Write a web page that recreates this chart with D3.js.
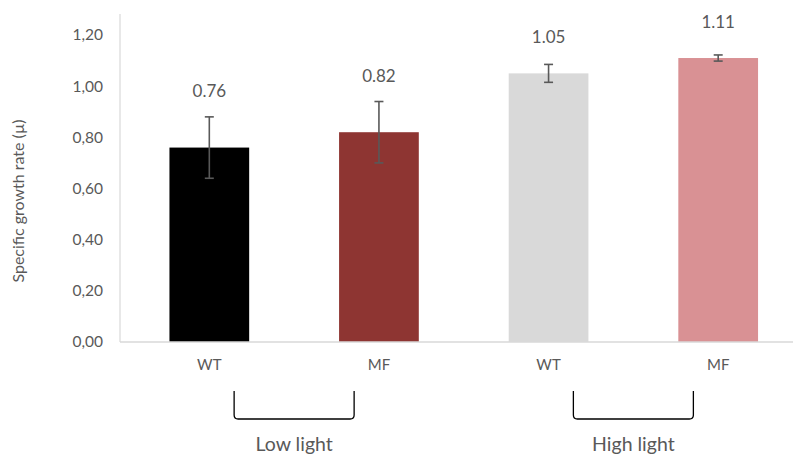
<!DOCTYPE html>
<html>
<head>
<meta charset="utf-8">
<script src="https://cdn.jsdelivr.net/npm/d3@7/dist/d3.min.js"></script>
<style>
  html, body { margin: 0; padding: 0; background: #ffffff; }
  svg { display: block; font-family: Lato, "Open Sans", sans-serif; }
</style>
</head>
<body>
<svg id="chart" width="793" height="457"></svg>
<script>
// Specific growth rate by strain and light condition
const categories = ["WT", "MF", "WT", "MF"];
const groups = ["Low light", "Low light", "High light", "High light"];
const groupNames = ["Low light", "High light"];
const means = [0.76, 0.82, 1.05, 1.11];
const errors = [0.12, 0.12, 0.035, 0.012];
const valueLabels = ["0.76", "0.82", "1.05", "1.11"];
const barColors = ["#000000", "#8e3532", "#d9d9d9", "#d99194"];
const yTicks = [0, 0.2, 0.4, 0.6, 0.8, 1.0, 1.2];

const svg = d3.select("#chart");
const axisX = 120, baseY = 342, topY = 14;
const textColor = "#595959";

const y = d3.scaleLinear().domain([0, 1.2]).range([baseY, 35]);
const x = d3.scaleBand()
  .domain(d3.range(categories.length))
  .range([124.5, 803])
  .paddingInner(0.53)
  .paddingOuter(0.265);

const fmt = v => d3.format(".2f")(v).replace(".", ",");

// Y axis (labels only, plus a thin vertical rule)
const yAxis = d3.axisLeft(y).tickValues(yTicks).tickFormat(fmt).tickSize(0).tickPadding(17);
const gy = svg.append("g").attr("transform", `translate(${axisX},0)`).call(yAxis);
gy.select(".domain").remove();
gy.selectAll("text")
  .attr("fill", textColor)
  .style("font-size", "15.5px")
  .style("font-family", "Lato, 'Open Sans', sans-serif");

svg.append("line")
  .attr("x1", axisX).attr("x2", axisX)
  .attr("y1", topY).attr("y2", baseY)
  .attr("stroke", "#d9d9d9").attr("stroke-width", 1.2);

// Bars
svg.append("g").selectAll("rect")
  .data(means)
  .join("rect")
  .attr("x", (d, i) => x(i))
  .attr("width", x.bandwidth())
  .attr("y", d => y(d))
  .attr("height", d => baseY - y(d))
  .attr("fill", (d, i) => barColors[i]);

// Baseline
svg.append("line")
  .attr("x1", axisX).attr("x2", 793)
  .attr("y1", baseY).attr("y2", baseY)
  .attr("stroke", "#d9d9d9").attr("stroke-width", 1.5);

// Error bars
const eb = svg.append("g").attr("stroke", "#595959").attr("stroke-width", 1.6);
means.forEach((m, i) => {
  const cx = x(i) + x.bandwidth() / 2;
  const yHi = y(m + errors[i]), yLo = y(m - errors[i]);
  eb.append("line").attr("x1", cx).attr("x2", cx).attr("y1", yHi).attr("y2", yLo);
  eb.append("line").attr("x1", cx - 4.5).attr("x2", cx + 4.5).attr("y1", yHi).attr("y2", yHi);
  eb.append("line").attr("x1", cx - 4.5).attr("x2", cx + 4.5).attr("y1", yLo).attr("y2", yLo);
});

// Value labels above error bars
svg.append("g").selectAll("text")
  .data(means)
  .join("text")
  .attr("x", (d, i) => x(i) + x.bandwidth() / 2)
  .attr("y", (d, i) => Math.min(y(d + errors[i]) - 20, y(d) - 30))
  .attr("text-anchor", "middle")
  .attr("fill", textColor)
  .style("font-size", "17px")
  .text((d, i) => valueLabels[i]);

// Category labels
svg.append("g").selectAll("text")
  .data(categories)
  .join("text")
  .attr("x", (d, i) => x(i) + x.bandwidth() / 2)
  .attr("y", 370)
  .attr("text-anchor", "middle")
  .attr("fill", textColor)
  .style("font-size", "15px")
  .text(d => d);

// Group brackets and labels
groupNames.forEach(g => {
  const idx = d3.range(groups.length).filter(i => groups[i] === g);
  const c0 = x(idx[0]) + x.bandwidth() / 2;
  const c1 = x(idx[idx.length - 1]) + x.bandwidth() / 2;
  const mid = (c0 + c1) / 2;
  const l = mid - 60, r = mid + 60, t = 391, b = 419, rr = 4;
  svg.append("path")
    .attr("d", `M${l},${t} L${l},${b - rr} Q${l},${b} ${l + rr},${b} L${r - rr},${b} Q${r},${b} ${r},${b - rr} L${r},${t}`)
    .attr("fill", "none")
    .attr("stroke", "#000")
    .attr("stroke-width", 1.3);
  svg.append("text")
    .attr("x", mid)
    .attr("y", 451)
    .attr("text-anchor", "middle")
    .attr("fill", textColor)
    .style("font-size", "19.5px")
    .text(g);
});

// Y axis title
svg.append("text")
  .attr("transform", `translate(24,201) rotate(-90)`)
  .attr("text-anchor", "middle")
  .attr("fill", textColor)
  .style("font-size", "16px")
  .text("Specific growth rate (µ)");
</script>
</body>
</html>
